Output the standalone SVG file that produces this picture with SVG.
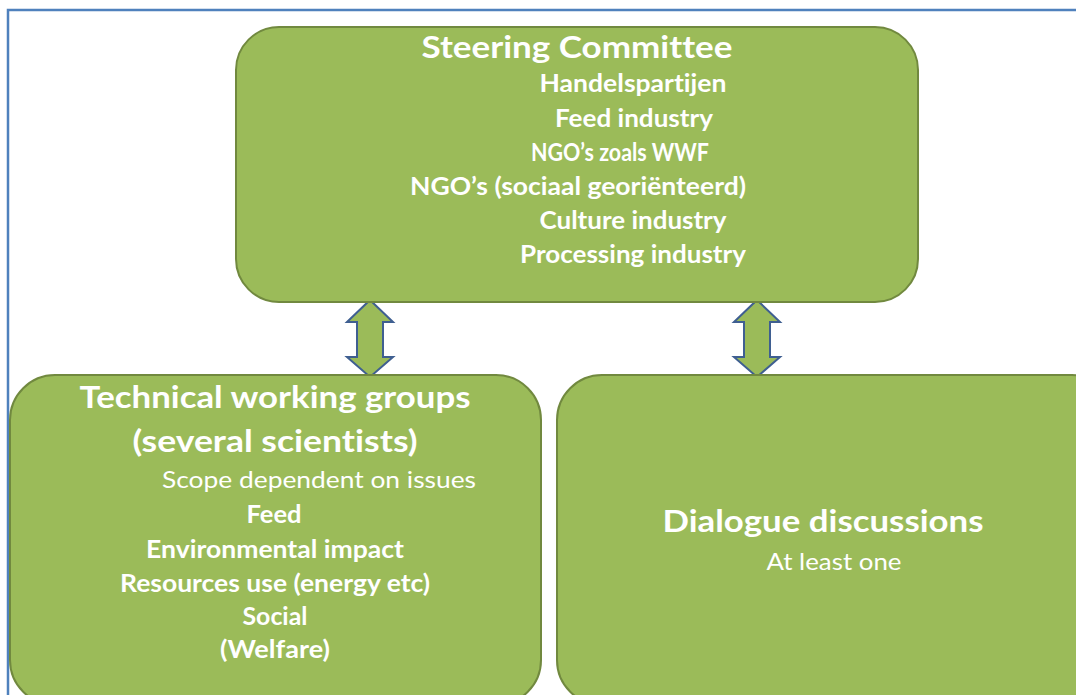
<svg xmlns="http://www.w3.org/2000/svg" width="1076" height="695" viewBox="0 0 1076 695">
<style>
.box{fill:#9bbb59;stroke:#71893f;stroke-width:2}
.arr{fill:#9bbb59;stroke:#3f5f91;stroke-width:2;stroke-linejoin:miter}
text{font-family:Lato,"Open Sans","Liberation Sans",sans-serif;fill:#ffffff;text-anchor:middle;font-variant-ligatures:none;font-feature-settings:"liga" 0}
.t{font-weight:bold;font-size:31px}
.i{font-weight:bold;font-size:24px}
.r{font-weight:normal;font-size:24px}
</style>
<rect x="8" y="10" width="1090" height="700" fill="#ffffff" stroke="#4f81bd" stroke-width="2.5"/>
<g id="connectors">
<path class="arr" d="M370,300 L393,322 L383,322 L383,357 L393,357 L370,377 L347,357 L357,357 L357,322 L347,322 Z"/>
<path class="arr" d="M757,300 L780,322 L770,322 L770,357 L780,357 L757,377 L734,357 L744,357 L744,322 L734,322 Z"/>
</g>
<g id="steering">
<rect class="box" x="236" y="27" width="682" height="275" rx="43" ry="43"/>
<text class="t" x="577" y="58" textLength="311" lengthAdjust="spacingAndGlyphs">Steering Committee</text>
<text class="i" x="633" y="92" textLength="187" lengthAdjust="spacingAndGlyphs">Handelspartijen</text>
<text class="i" x="634" y="127" textLength="158" lengthAdjust="spacingAndGlyphs">Feed industry</text>
<text class="i" x="620" y="161" textLength="178" lengthAdjust="spacingAndGlyphs">NGO’s zoals WWF</text>
<text class="i" x="578" y="195" textLength="336" lengthAdjust="spacingAndGlyphs">NGO’s (sociaal georiënteerd)</text>
<text class="i" x="633" y="229" textLength="187" lengthAdjust="spacingAndGlyphs">Culture industry</text>
<text class="i" x="633" y="263" textLength="226" lengthAdjust="spacingAndGlyphs">Processing industry</text>
</g>
<g id="technical">
<rect class="box" x="10" y="375" width="531" height="330" rx="45" ry="45"/>
<text class="t" x="275" y="408" textLength="391" lengthAdjust="spacingAndGlyphs">Technical working groups</text>
<text class="t" x="275" y="452" textLength="285" lengthAdjust="spacingAndGlyphs">(several scientists)</text>
<text class="r" x="319" y="488" textLength="314" lengthAdjust="spacingAndGlyphs">Scope dependent on issues</text>
<text class="i" x="274" y="523" textLength="55" lengthAdjust="spacingAndGlyphs">Feed</text>
<text class="i" x="275" y="558" textLength="258" lengthAdjust="spacingAndGlyphs">Environmental impact</text>
<text class="i" x="275" y="592" textLength="310" lengthAdjust="spacingAndGlyphs">Resources use (energy etc)</text>
<text class="i" x="275" y="625" textLength="65" lengthAdjust="spacingAndGlyphs">Social</text>
<text class="i" x="275" y="658" textLength="110" lengthAdjust="spacingAndGlyphs">(Welfare)</text>
</g>
<g id="dialogue">
<rect class="box" x="557" y="375" width="560" height="330" rx="45" ry="45"/>
<text class="t" x="823" y="532" textLength="321" lengthAdjust="spacingAndGlyphs">Dialogue discussions</text>
<text class="r" x="834" y="570" textLength="135" lengthAdjust="spacingAndGlyphs">At least one</text>
</g>
</svg>
